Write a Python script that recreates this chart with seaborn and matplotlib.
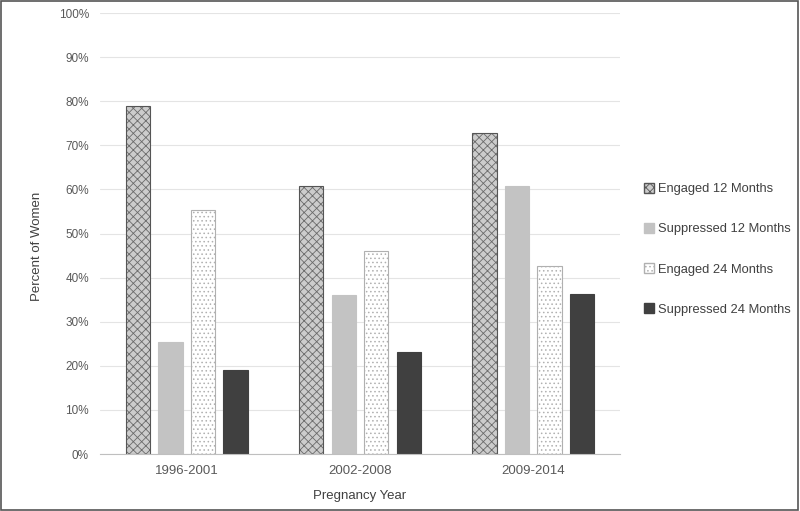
import numpy as np
import pandas as pd
import matplotlib
matplotlib.use("Agg")
import matplotlib.pyplot as plt
import seaborn as sns
from matplotlib.patches import Patch, Rectangle
from matplotlib.ticker import PercentFormatter

# Data
years = ["1996-2001", "2002-2008", "2009-2014"]
series = ["Engaged 12 Months", "Suppressed 12 Months", "Engaged 24 Months", "Suppressed 24 Months"]
engaged_12 = [78.9, 60.8, 72.8]
suppressed_12 = [25.4, 36.1, 60.8]
engaged_24 = [55.3, 46.0, 42.6]
suppressed_24 = [19.0, 23.1, 36.3]

rows = []
for name, vals in zip(series, [engaged_12, suppressed_12, engaged_24, suppressed_24]):
    for yr, v in zip(years, vals):
        rows.append({"year": yr, "series": name, "pct": v})
df = pd.DataFrame(rows)

sns.set_style("white")
plt.rcParams["font.family"] = ["Liberation Sans", "DejaVu Sans"]
plt.rcParams["hatch.linewidth"] = 0.6

# styles per series: face, edge, hatch
styles = {
    "Engaged 12 Months": ("#cccccc", "#555555", "xxxx"),
    "Suppressed 12 Months": ("#c3c3c3", "#c3c3c3", ""),
    "Engaged 24 Months": ("#ffffff", "#b0b0b0", "...."),
    "Suppressed 24 Months": ("#404040", "#404040", ""),
}

fig = plt.figure(figsize=(8, 5.11), dpi=100)
ax = fig.add_axes([0.125, 0.1115, 0.65, 0.863])

sns.barplot(data=df, x="year", y="pct", hue="series", hue_order=series,
            width=0.75, gap=0.25, ax=ax, legend=False,
            palette=[styles[s][0] for s in series])

n = len(years)
for i, s in enumerate(series):
    face, edge, hatch = styles[s]
    for bar in ax.patches[i * n:(i + 1) * n]:
        bar.set_facecolor(face)
        bar.set_edgecolor(edge)
        bar.set_hatch(hatch)
        bar.set_linewidth(0.8)

# lighter pattern on engaged 12 bars
for bar in ax.patches[0:n]:
    bar._hatch_color = matplotlib.colors.to_rgba("#6a6a6a")

ax.set_ylim(0, 100)
ax.set_xlim(-0.5, 2.5)
ax.set_yticks(np.arange(0, 101, 10))
ax.yaxis.set_major_formatter(PercentFormatter(decimals=0))
ax.grid(axis="y", color="#e4e4e4", linewidth=0.8)
ax.set_axisbelow(True)
for side in ["top", "right", "left"]:
    ax.spines[side].set_visible(False)
ax.spines["bottom"].set_color("#bfbfbf")
ax.tick_params(axis="both", length=0, colors="#595959")
ax.tick_params(axis="y", labelsize=8.5, pad=8)
ax.tick_params(axis="x", labelsize=9.5, pad=8)
ax.set_xlabel("Pregnancy Year", fontsize=9.5, color="#404040", labelpad=9)
ax.set_ylabel("Percent of Women", fontsize=9.5, color="#404040")
ax.yaxis.set_label_coords(-0.11, 0.47)

# Legend
handles = []
for s in series:
    face, edge, hatch = styles[s]
    handles.append(Patch(facecolor=face, edgecolor=edge if hatch else face, hatch=hatch, label=s))
fig.legend(handles=handles, loc="upper left", bbox_to_anchor=(0.79, 0.665),
           frameon=False, fontsize=9.3, labelspacing=2.15, handlelength=0.8,
           handleheight=0.8, handletextpad=0.35, labelcolor="#404040")

# Figure border
fig.patches.append(Rectangle((0.001, 0.001), 0.997, 0.997, transform=fig.transFigure,
                             fill=False, edgecolor="#555555", linewidth=1.2))

fig.savefig("out.png", dpi=100)
